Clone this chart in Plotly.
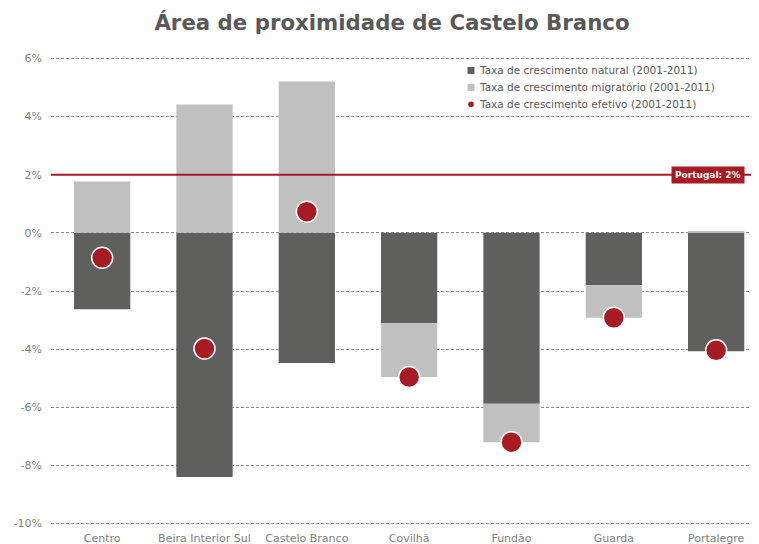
import plotly.graph_objects as go

categories = ["Centro", "Beira Interior Sul", "Castelo Branco", "Covilhã", "Fundão", "Guarda", "Portalegre"]
natural = [-2.63, -8.40, -4.48, -3.11, -5.88, -1.80, -4.07]
migratorio = [1.77, 4.42, 5.21, -1.85, -1.32, -1.12, 0.03]
efetivo = [-0.86, -3.98, 0.73, -4.96, -7.20, -2.92, -4.04]
portugal = 2.0
y_ticks = [6, 4, 2, 0, -2, -4, -6, -8, -10]
y_ticklabels = ["6%", "4%", "2%", "0%", "-2%", "-4%", "-6%", "-8%", "-10%"]

names = ["Taxa de crescimento natural (2001-2011)",
         "Taxa de crescimento migratório (2001-2011)",
         "Taxa de crescimento efetivo (2001-2011)"]

c_nat = "#5f605e"
c_mig = "#bfc0bf"
c_red = "#a91b24"
txt = "#7f7f7f"
FONT = "Verdana, DejaVu Sans, sans-serif"

# figure geometry (page body adds an 8px offset)
W, H = 751, 536
L, R, T, B = 43, 5, 48.5, 18.5
PW, PH = W - L - R, H - T - B

def px_x(x):  # figure px -> paper x
    return (x - L) / PW

def px_y(y):  # figure px -> paper y
    return 1 - (y - T) / PH

fig = go.Figure()
fig.add_trace(go.Bar(x=categories, y=natural, marker=dict(color=c_nat, line=dict(width=0)),
                     width=0.55, showlegend=False, name=names[0]))
fig.add_trace(go.Bar(x=categories, y=migratorio, marker=dict(color=c_mig, line=dict(width=0)),
                     width=0.55, showlegend=False, name=names[1]))
fig.add_trace(go.Scatter(x=categories, y=efetivo, mode="markers",
                         marker=dict(color=c_red, size=21, line=dict(color="white", width=1.5)),
                         showlegend=False, name=names[2]))

# Portugal reference line + label
fig.add_shape(type="line", xref="paper", yref="y", x0=0, x1=1, y0=portugal, y1=portugal,
              line=dict(color=c_red, width=2), layer="above")
fig.add_annotation(xref="paper", yref="y", x=px_x(737), y=portugal, xanchor="right", yanchor="middle",
                   text="<b>Portugal: 2%</b>", showarrow=False,
                   font=dict(family=FONT, size=9, color="white"),
                   bgcolor=c_red, borderpad=3)

# manual legend
leg_rows = [62, 79, 96]
leg_cols = [c_nat, c_mig, c_red]
for i, (yy, col, nm) in enumerate(zip(leg_rows, leg_cols, names)):
    cx, s = 463, 3.5
    if i < 2:
        fig.add_shape(type="rect", xref="paper", yref="paper",
                      x0=px_x(cx - s), x1=px_x(cx + s), y0=px_y(yy + s), y1=px_y(yy - s),
                      fillcolor=col, line=dict(width=0), layer="above")
    else:
        r = 2.8
        fig.add_shape(type="circle", xref="paper", yref="paper",
                      x0=px_x(cx - r), x1=px_x(cx + r), y0=px_y(yy + r), y1=px_y(yy - r),
                      fillcolor=col, line=dict(width=0), layer="above")
    fig.add_annotation(xref="paper", yref="paper", x=px_x(469), y=px_y(yy),
                       xanchor="left", yanchor="middle", text=nm, showarrow=False,
                       font=dict(family=FONT, size=10.5, color="#595959"))

fig.update_layout(
    width=W, height=H,
    margin=dict(l=L, r=R, t=T, b=B, autoexpand=False),
    paper_bgcolor="white", plot_bgcolor="white",
    barmode="relative",
    font=dict(family=FONT, size=11, color=txt),
    title=dict(text="<b>Área de proximidade de Castelo Branco</b>",
               x=384 / W, xanchor="center", xref="container",
               y=1 - 15 / H, yanchor="middle", yref="container",
               font=dict(family="DejaVu Sans, sans-serif", size=21.3, color="#595959")),
    showlegend=False,
)
fig.update_xaxes(type="category", range=[-0.5, 6.37], showgrid=False, showline=False,
                 automargin=False,
                 ticks="", ticklabelstandoff=5, tickfont=dict(size=11, color=txt))
fig.update_yaxes(range=[-10.05, 6.05], tickvals=y_ticks, ticktext=y_ticklabels,
                 showgrid=True, gridcolor="#8c8c8c", griddash="3px,2px", gridwidth=1,
                 zeroline=False, showline=False, ticks="", ticklabelstandoff=8,
                 automargin=False,
                 tickfont=dict(size=11, color=txt))

fig.write_html("out.html")
